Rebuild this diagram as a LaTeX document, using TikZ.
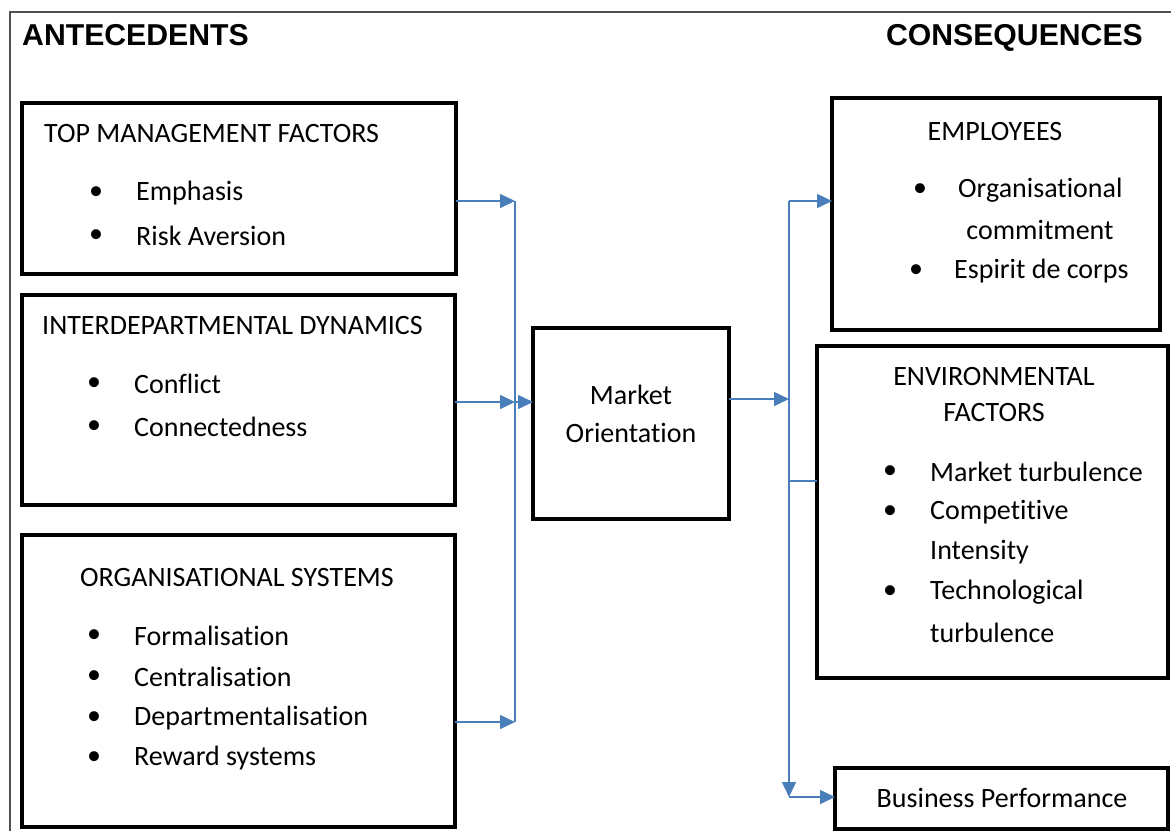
\documentclass[tikz,border=0pt]{standalone}
\usepackage{fontspec}
\setmainfont[Ligatures=NoCommon]{Carlito}
\newfontfamily\headfont{Liberation Sans}
\usetikzlibrary{arrows.meta,calc}
\definecolor{conblue}{HTML}{4A7EBB}
\definecolor{framegray}{HTML}{505050}
\begin{document}
\begin{tikzpicture}[x=1pt,y=-1pt,
  box/.style={draw=black,line width=4pt,inner sep=0pt,outer sep=0pt},
  txt/.style={font=\fontsize{28}{33}\selectfont,inner sep=0pt,anchor=west},
  ctxt/.style={font=\fontsize{28}{33}\selectfont,inner sep=0pt,anchor=center},
  bul/.style={font=\fontsize{28}{33}\selectfont,inner sep=0pt,anchor=center},
  head/.style={font=\headfont\bfseries\fontsize{30.2}{34}\selectfont,inner sep=0pt},
  arr/.style={draw=conblue,line width=1.6pt,-{Triangle[length=15pt,width=14pt]}},
  ln/.style={draw=conblue,line width=1.6pt}]
\useasboundingbox (0,0) rectangle (1171,831);
\fill[white] (0,0) rectangle (1171,831);
% outer frame
\draw[framegray,line width=1.3pt] (10,831) -- (10,12) -- (1171,12);
% headings
\node[head,anchor=base west] (hA) at (22,45) {ANTECEDENTS};
\node[head,anchor=base east] (hC) at (1143,45) {CONSEQUENCES};
% boxes
\node[box,minimum width=434,minimum height=171] (tm) at (239,188.5) {};
\node[box,minimum width=433,minimum height=210] (id) at (238.5,400) {};
\node[box,minimum width=433,minimum height=292] (os) at (238.5,681) {};
\node[box,minimum width=196,minimum height=191] (mo) at (631,423.5) {};
\node[box,minimum width=328,minimum height=232] (emp) at (996,214) {};
\node[box,minimum width=351,minimum height=332] (env) at (992.5,512) {};
\node[box,minimum width=333,minimum height=61] (bp) at (1001.5,798.5) {};
% top management
\node[txt] (tmt) at (44,134) {TOP MANAGEMENT FACTORS};
\node[bul] (tmb1) at (96,193) {\textbullet};
\node[txt] (tm1) at (136,193) {Emphasis};
\node[bul] (tmb2) at (96,236) {\textbullet};
\node[txt] (tm2) at (136,236) {Risk Aversion};
% interdepartmental
\node[txt] (idt) at (42,326) {INTERDEPARTMENTAL DYNAMICS};
\node[bul] (idb1) at (94,384) {\textbullet};
\node[txt] (id1) at (134,384) {Conflict};
\node[bul] (idb2) at (94,427) {\textbullet};
\node[txt] (id2) at (134,427) {Connectedness};
% organisational systems
\node[txt] (ost) at (80,578) {ORGANISATIONAL SYSTEMS};
\node[bul] (osb1) at (94,636) {\textbullet};
\node[txt] (os1) at (134,636) {Formalisation};
\node[bul] (osb2) at (94,677) {\textbullet};
\node[txt] (os2) at (134,677) {Centralisation};
\node[bul] (osb3) at (94,718) {\textbullet};
\node[txt] (os3) at (134,718) {Departmentalisation};
\node[bul] (osb4) at (94,758) {\textbullet};
\node[txt] (os4) at (134,758) {Reward systems};
% market orientation
\node[ctxt] (mo1) at (631,395) {Market};
\node[ctxt] (mo2) at (631,433) {Orientation};
% employees
\node[ctxt] (empt) at (995,132) {EMPLOYEES};
\node[bul] (empb1) at (920,190) {\textbullet};
\node[txt] (emp1) at (958,190) {Organisational};
\node[ctxt] (emp1b) at (1040,230) {commitment};
\node[bul] (empb2) at (916,271) {\textbullet};
\node[txt] (emp2) at (954,271) {Espirit de corps};
% environmental
\node[ctxt] (envt1) at (994,377) {ENVIRONMENTAL};
\node[ctxt] (envt2) at (994,413) {FACTORS};
\node[bul] (envb1) at (890,472) {\textbullet};
\node[txt] (env1) at (930,472) {Market turbulence};
\node[bul] (envb2) at (890,512) {\textbullet};
\node[txt] (env2) at (930,512) {Competitive};
\node[txt] (env2b) at (930,552) {Intensity};
\node[bul] (envb3) at (890,592) {\textbullet};
\node[txt] (env3) at (930,592) {Technological};
\node[txt] (env3b) at (930,633) {turbulence};
% business performance
\node[ctxt] (bpt) at (1002,798) {Business Performance};
% connector junctions
\coordinate (j1) at (515,201);
\coordinate (j2) at (515,402);
\coordinate (j3) at (515,722);
\coordinate (k1) at (789,201);
\coordinate (k2) at (789,399);
\coordinate (k3) at (789,481);
\coordinate (k4) at (789,797);
% left connectors
\draw[ln] (j1) -- (j3);
\draw[arr] (tm.east |- j1) -- (j1);
\draw[arr] (id.east |- j2) -- (j2);
\draw[arr] (j2) -- (mo.west |- j2);
\draw[arr] (os.east |- j3) -- (j3);
% right connectors
\draw[arr] (mo.east |- k2) -- (k2);
\draw[arr] (k1) -- (k4);
\draw[arr] (k1) -- (emp.west |- k1);
\draw[ln] (k3) -- (env.west |- k3);
\draw[arr] (k4) -- (bp.west |- k4);
\end{tikzpicture}
\end{document}
